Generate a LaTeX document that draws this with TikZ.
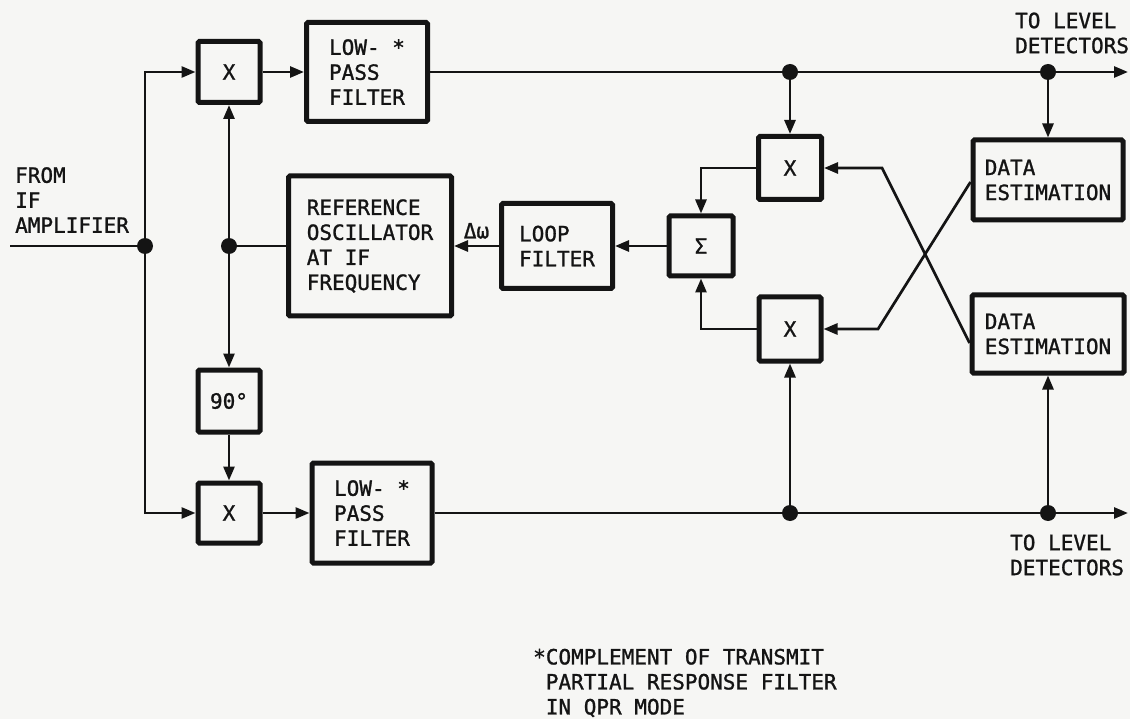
\documentclass[tikz,border=0pt]{standalone}
\usepackage{fontspec}
\newfontfamily\lettering[FakeBold=1.2]{DejaVu Sans Mono}
\usetikzlibrary{arrows.meta,calc}
\definecolor{ink}{RGB}{20,20,20}
\definecolor{paper}{RGB}{246,246,244}
\begin{document}
\begin{tikzpicture}[x=1pt,y=-1pt,
  font=\lettering\fontsize{21}{25}\selectfont,
  blk/.style={draw=ink,line width=5pt,inner sep=0pt,align=left,rounded corners=1.5pt,text=ink},
  wire/.style={draw=ink,line width=2.7pt},
  arr/.style={wire,-{Triangle[length=14pt,width=11pt]}},
  jdot/.style={circle,fill=ink,inner sep=0pt,minimum size=16pt},
  lbl/.style={inner sep=0pt,align=left,anchor=west,text=ink}]
\useasboundingbox (0,0) rectangle (1130,719);
\fill[paper] (0,0) rectangle (1130,719);

% blocks
\node[blk,minimum width=62pt,minimum height=61pt] (mx1) at (229,72) {X};
\node[blk,minimum width=121pt,minimum height=99pt] (lpf1) at (367,72) {LOW- *\\PASS\\FILTER};
\node[blk,minimum width=62pt,minimum height=60pt] (mx2) at (229,513) {X};
\node[blk,minimum width=120pt,minimum height=100pt] (lpf2) at (372,513) {LOW- *\\PASS\\FILTER};
\node[blk,minimum width=62pt,minimum height=62pt] (ph) at (229,401) {90°};
\node[blk,minimum width=163pt,minimum height=140pt] (osc) at (370,246) {REFERENCE\\OSCILLATOR\\AT IF\\FREQUENCY};
\node[blk,minimum width=111pt,minimum height=85pt] (lf) at (557,246) {LOOP\\FILTER};
\node[blk,minimum width=64pt,minimum height=60pt] (sig) at (701,246) {Σ};
\node[blk,minimum width=63pt,minimum height=63pt] (mx3) at (790,168) {X};
\node[blk,minimum width=62pt,minimum height=64pt] (mx4) at (790,329) {X};
\node[blk,minimum width=150pt,minimum height=80pt] (de1) at (1048,180) {DATA\\ESTIMATION};
\node[blk,minimum width=152pt,minimum height=78pt] (de2) at (1048,334) {DATA\\ESTIMATION};

% junctions
\node[jdot] (j1) at (145,246) {};
\node[jdot] (j2) at (229,246) {};
\node[jdot] (j3) at (790,72) {};
\node[jdot] (j4) at (1048,72) {};
\node[jdot] (j5) at (790,513) {};
\node[jdot] (j6) at (1048,513) {};
\coordinate (in) at (10,246);
\coordinate (o1) at (1128,72);
\coordinate (o2) at (1128,513);
\coordinate (c1) at (878,329);
\coordinate (c2) at (882,168);

% connectors
\draw[wire] (in) -- (j1);
\draw[arr] (j1) |- (mx1.west);
\draw[arr] (j1) |- (mx2.west);
\draw[arr] (mx1) -- (lpf1);
\draw[arr] (mx2) -- (lpf2);
\draw[arr] (j2) -- (mx1);
\draw[wire] (j2) -- (osc);
\draw[arr] (j2) -- (ph);
\draw[arr] (ph) -- (mx2);
\draw[wire] (lpf1) -- (j3) -- (j4);
\draw[arr] (j4) -- (o1);
\draw[arr] (j3) -- (mx3);
\draw[arr] (j4) -- (de1);
\draw[wire] (lpf2) -- (j5) -- (j6);
\draw[arr] (j6) -- (o2);
\draw[arr] (j5) -- (mx4);
\draw[arr] (j6) -- (de2);
\draw[arr] (mx3.west) -| (sig.north);
\draw[arr] (mx4.west) -| (sig.south);
\draw[arr] (sig) -- (lf);
\draw[arr] (lf) -- (osc) node[midway,above=6pt,text=ink,inner sep=0pt] (dw) {Δω};
\draw[arr] ($(de1.west)+(0,2)$) -- (c1) -- (mx4.east);
\draw[arr] ($(de2.west)+(0,9)$) -- (c2) -- (mx3.east);

% labels
\node[lbl] (from) at (15,200) {FROM\\IF\\AMPLIFIER};
\node[lbl] (tl1) at (1015,33) {TO LEVEL\\DETECTORS};
\node[lbl] (tl2) at (1010,555) {TO LEVEL\\DETECTORS};
\node[lbl] (note) at (533,683) {*COMPLEMENT OF TRANSMIT\\\phantom{*}PARTIAL RESPONSE FILTER\\\phantom{*}IN QPR MODE};
\end{tikzpicture}
\end{document}
